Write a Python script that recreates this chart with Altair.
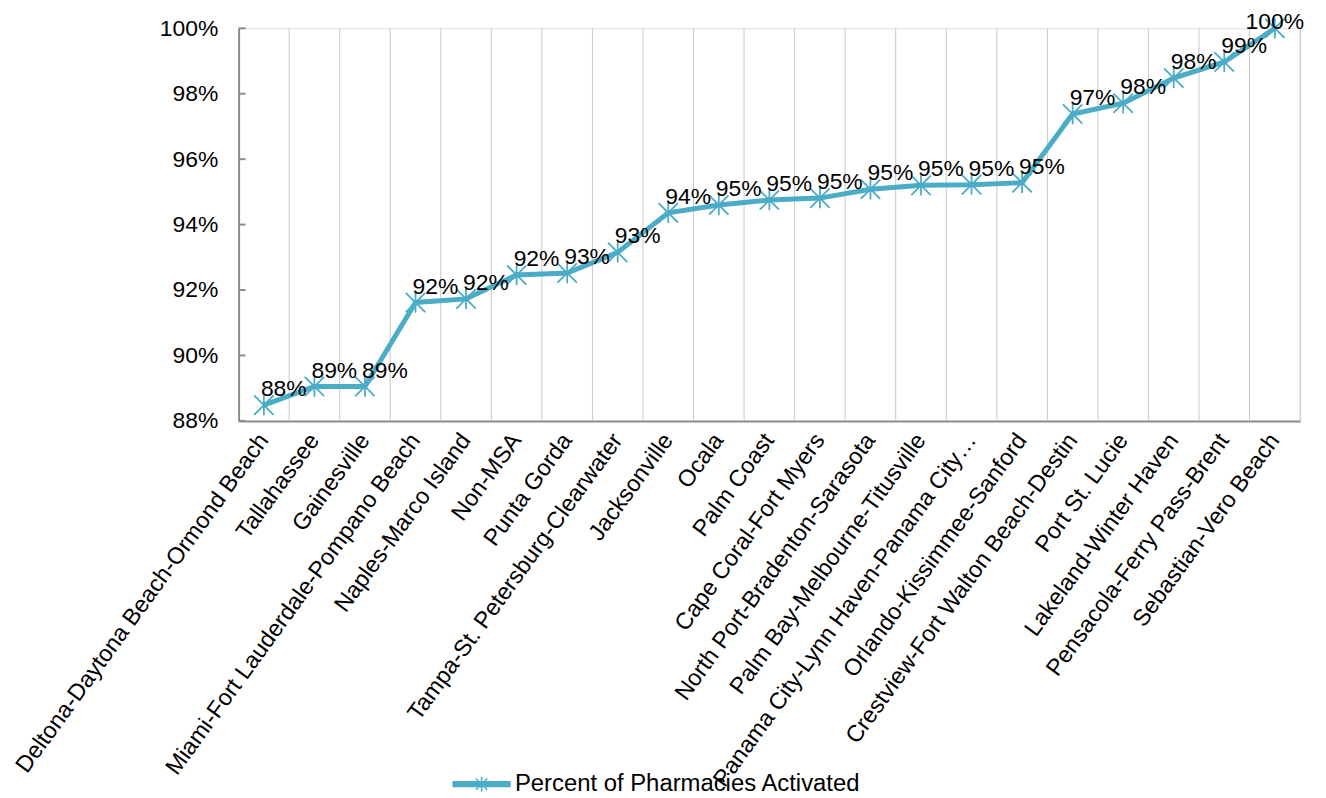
import altair as alt
import pandas as pd

categories = [
    "Deltona-Daytona Beach-Ormond Beach",
    "Tallahassee",
    "Gainesville",
    "Miami-Fort Lauderdale-Pompano Beach",
    "Naples-Marco Island",
    "Non-MSA",
    "Punta Gorda",
    "Tampa-St. Petersburg-Clearwater",
    "Jacksonville",
    "Ocala",
    "Palm Coast",
    "Cape Coral-Fort Myers",
    "North Port-Bradenton-Sarasota",
    "Palm Bay-Melbourne-Titusville",
    "Panama City-Lynn Haven-Panama City\u2026",
    "Orlando-Kissimmee-Sanford",
    "Crestview-Fort Walton Beach-Destin",
    "Port St. Lucie",
    "Lakeland-Winter Haven",
    "Pensacola-Ferry Pass-Brent",
    "Sebastian-Vero Beach",
]
values = [0.8848, 0.8905, 0.8905, 0.9162, 0.9173, 0.9246, 0.9252, 0.9315,
          0.9436, 0.9460, 0.9475, 0.9481, 0.9508, 0.9520, 0.9522, 0.9528,
          0.9738, 0.9771, 0.9848, 0.9897, 1.0]
series_name = "Percent of Pharmacies Activated"
y_ticks = [0.88, 0.90, 0.92, 0.94, 0.96, 0.98, 1.00]

df = pd.DataFrame({"cat": categories, "val": values, "series": series_name})
df["order"] = list(range(len(df)))
ticks_df = pd.DataFrame({"t": y_ticks})
last = len(df) - 1

COLOR = "#4BACC6"
AXIS_COLOR = "#8c8c8c"
GRID_COLOR = "#c8c8c8"
FONT = "Liberation Sans"
FS = 23
W, H = 1068, 395

ASTERISK = "M-1,-1L1,1M-1,1L1,-1M0,-1.05V1.05"
LEGEND_SYMBOL = ("M-2.5,-0.21H2.5V0.21H-2.5Z"
                 "M-0.5,-0.5L0.5,0.5M-0.5,0.5L0.5,-0.5M0,-0.66V0.66")

xscale = alt.Scale(type="band", domain=categories, paddingInner=0, paddingOuter=0)
yscale = alt.Scale(domain=[0.88, 1.0], nice=False, zero=False)

x_axis = alt.Axis(title=None, labelAngle=-54, labelAlign="right", labelBaseline="middle",
                  labelPadding=15, ticks=False, grid=False, domainColor=AXIS_COLOR,
                  domainWidth=2, labelFontSize=23.5, labelFont=FONT, labelColor="black",
                  labelLimit=700, labelOverlap=False)
y_axis = alt.Axis(title=None, values=y_ticks, format=".0%", ticks=False, grid=False,
                  labelPadding=21, domainColor=AXIS_COLOR, domainWidth=2,
                  labelFontSize=FS, labelFont=FONT, labelColor="black")


def xenc(bp):
    return alt.X("cat:N", bandPosition=bp, scale=xscale, axis=x_axis)


def yenc():
    return alt.Y("val:Q", scale=yscale, axis=y_axis)


grid = alt.Chart(df).mark_rule(color=GRID_COLOR, strokeWidth=1).encode(x=xenc(1))

yticks = alt.Chart(ticks_df).mark_rule(color=AXIS_COLOR, strokeWidth=2).encode(
    y=alt.Y("t:Q", scale=yscale, axis=y_axis), x=alt.value(0), x2=alt.value(7))

line = alt.Chart(df).mark_line(color=COLOR, strokeWidth=5).encode(
    x=xenc(0.5), y=yenc(), order="order:Q")

points = alt.Chart(df).mark_point(shape=ASTERISK, filled=True, size=380, strokeWidth=1.8,
                                  stroke=COLOR, opacity=1).encode(
    x=xenc(0.5), y=yenc(),
    color=alt.Color("series:N", scale=alt.Scale(range=[COLOR]),
                    legend=alt.Legend(title=None, orient="none", legendX=232, legendY=748,
                                      symbolType=LEGEND_SYMBOL, symbolSize=520,
                                      symbolStrokeWidth=1.5, symbolStrokeColor=COLOR,
                                      symbolFillColor=COLOR, labelFontSize=24,
                                      labelFont=FONT, labelColor="black",
                                      labelOffset=21, padding=0, symbolOffset=0,
                                      labelLimit=600)))

labels = alt.Chart(df).transform_filter(alt.datum.order < last).mark_text(
    align="left", baseline="middle", dx=-3, dy=-16, fontSize=FS, font=FONT, color="black"
).encode(x=xenc(0.5), y=yenc(), text=alt.Text("val:Q", format=".0%"))

label_last = alt.Chart(df).transform_filter(alt.datum.order == last).mark_text(
    align="center", baseline="middle", dx=0, dy=-6, fontSize=FS, font=FONT, color="black"
).encode(x=xenc(0.5), y=yenc(), text=alt.Text("val:Q", format=".0%"))

chart = alt.layer(grid, yticks, line, points, labels, label_last).properties(
    width=W, height=H,
    autosize=alt.AutoSizeParams(type="none"),
    padding={"left": 232, "top": 18, "right": 18, "bottom": 377},
).configure_view(stroke=None).configure(font=FONT)

chart.save("out.html", embed_options={"renderer": "svg", "actions": False})
